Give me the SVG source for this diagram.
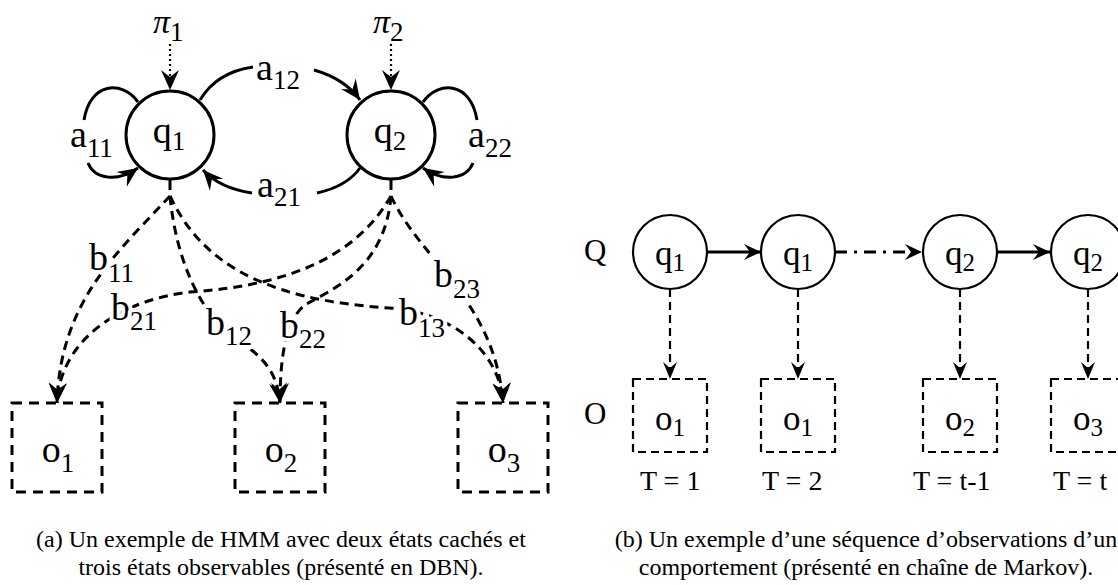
<svg xmlns="http://www.w3.org/2000/svg" width="1118" height="585" viewBox="0 0 1118 585" font-family="Liberation Serif, DejaVu Serif, serif">
<style>
text{font-family:'Liberation Serif','DejaVu Serif',serif;fill:#000}
.lt{font-size:38px}
.pi{font-size:34px}
.sub{font-size:27px}
.rt{font-size:35px}
.rsub{font-size:25px}
.cap{font-size:24px;text-anchor:middle}
.tl{font-size:28px}
.halo{stroke:#fff;stroke-width:8;paint-order:stroke;stroke-linejoin:round}
.node{fill:#fff;stroke:#000;stroke-width:3}
.rnode{fill:#fff;stroke:#000;stroke-width:2.2}
.obs{fill:none;stroke:#000;stroke-width:3;stroke-dasharray:10 7}
.robs{fill:none;stroke:#000;stroke-width:2.2;stroke-dasharray:8 5}
.arc{fill:none;stroke:#000;stroke-width:3}
.dash{fill:none;stroke:#000;stroke-width:3;stroke-dasharray:9 6}
.dot{fill:none;stroke:#000;stroke-width:2.2;stroke-dasharray:2 3}
.rsolid{fill:none;stroke:#000;stroke-width:3}
.rdd{fill:none;stroke:#000;stroke-width:3;stroke-dasharray:12 7 3 7}
.rdash{fill:none;stroke:#000;stroke-width:2.2;stroke-dasharray:8 5}
</style>
<defs>
<marker id="ahL" markerUnits="userSpaceOnUse" viewBox="-22 -11 24 22" markerWidth="24" markerHeight="22" refX="0" refY="0" orient="auto">
<path d="M0,0 L-20,-9 L-13,0 L-20,9 Z" fill="#000"/>
</marker>
<marker id="ahR" markerUnits="userSpaceOnUse" viewBox="-20 -10 22 20" markerWidth="22" markerHeight="20" refX="0" refY="0" orient="auto">
<path d="M0,0 L-17,-8 L-11,0 L-17,8 Z" fill="#000"/>
</marker>
<marker id="ahV" markerUnits="userSpaceOnUse" viewBox="-20 -10 22 20" markerWidth="22" markerHeight="20" refX="0" refY="0" orient="auto">
<path d="M0,0 L-17,-7 L-11,0 L-17,7 Z" fill="#000"/>
</marker>
</defs>
<rect width="1118" height="585" fill="#fff"/>

<g id="connectors">
<path class="dot" d="M170,44 L170,76"/>
<path class="dot" d="M391,44 L391,76"/>
<path d="M170,72 L170,90" stroke="none" fill="none" marker-end="url(#ahL)"/>
<path d="M391,72 L391,90" stroke="none" fill="none" marker-end="url(#ahL)"/>
<path class="arc" d="M200,100 C212,80 232,70 253,67"/>
<path class="arc" d="M314,70 C335,76 350,86 360,100" marker-end="url(#ahL)"/>
<path class="arc" d="M360,168 C350,182 335,189 317,193"/>
<path class="arc" d="M252,193 C232,190 214,182 203,170" marker-end="url(#ahL)"/>
<path class="arc" d="M138,102 C122,80 90,82 84,120"/>
<path class="arc" d="M88,163 C95,180 118,182 138,168" marker-end="url(#ahL)"/>
<path class="arc" d="M423,102 C439,80 471,82 477,120"/>
<path class="arc" d="M473,163 C466,180 443,182 423,168" marker-end="url(#ahL)"/>
<path class="arc" d="M170,179 L170,190"/>
<path class="arc" d="M391,179 L391,190"/>
<path class="dash" d="M170,196 C120,250 60,300 57,403" marker-end="url(#ahL)"/>
<path class="dash" d="M170,196 C176,260 200,310 230,335 C262,355 277,370 280,403" marker-end="url(#ahL)"/>
<path class="dash" d="M170,196 C200,260 260,300 390,308 C450,312 500,350 503,403" marker-end="url(#ahL)"/>
<path class="dash" d="M391,196 C360,250 300,285 190,292 C120,300 60,340 57,403" marker-end="url(#ahL)"/>
<path class="dash" d="M391,196 C385,270 330,290 305,305 C285,320 280,360 280,403" marker-end="url(#ahL)"/>
<path class="dash" d="M391,196 C420,260 495,300 503,403" marker-end="url(#ahL)"/>
<path class="rsolid" d="M707,252 L761,252" marker-end="url(#ahR)"/>
<path class="rdd" d="M835,252 L922,252" marker-end="url(#ahR)"/>
<path class="rsolid" d="M997,252 L1050,252" marker-end="url(#ahR)"/>
<path class="rdash" d="M670,289 L670,379" marker-end="url(#ahV)"/>
<path class="rdash" d="M798,289 L798,379" marker-end="url(#ahV)"/>
<path class="rdash" d="M960,289 L960,379" marker-end="url(#ahV)"/>
<path class="rdash" d="M1088,289 L1088,379" marker-end="url(#ahV)"/>
</g>

<g id="edge-labels">
<text class="pi" x="153" y="33"><tspan font-style="italic">π</tspan><tspan class="sub" dy="8">1</tspan></text>
<text class="pi" x="373" y="33"><tspan font-style="italic">π</tspan><tspan class="sub" dy="8">2</tspan></text>
<text class="lt" x="256" y="80">a<tspan class="sub" dy="9">12</tspan></text>
<text class="lt" x="257" y="197">a<tspan class="sub" dy="9">21</tspan></text>
<text class="lt" x="70" y="147">a<tspan class="sub" dy="10">11</tspan></text>
<text class="lt" x="468" y="147">a<tspan class="sub" dy="10">22</tspan></text>
<text class="lt halo" x="89" y="270">b<tspan class="sub" dy="12">11</tspan></text>
<text class="lt halo" x="111" y="320">b<tspan class="sub" dy="10">21</tspan></text>
<text class="lt halo" x="206" y="335">b<tspan class="sub" dy="10">12</tspan></text>
<text class="lt halo" x="280" y="338">b<tspan class="sub" dy="10">22</tspan></text>
<text class="lt halo" x="399" y="325">b<tspan class="sub" dy="12">13</tspan></text>
<text class="lt halo" x="434" y="287">b<tspan class="sub" dy="11">23</tspan></text>
</g>

<g id="q1"><circle class="node" cx="170" cy="135" r="44"/><text class="lt" x="169" y="143" text-anchor="middle">q<tspan class="sub" dy="7">1</tspan></text></g>
<g id="q2"><circle class="node" cx="391" cy="135" r="44"/><text class="lt" x="390" y="143" text-anchor="middle">q<tspan class="sub" dy="7">2</tspan></text></g>
<g id="o1"><rect class="obs" x="12" y="403" width="90" height="89"/><text class="lt" x="58" y="462" text-anchor="middle">o<tspan class="sub" dy="10">1</tspan></text></g>
<g id="o2"><rect class="obs" x="235" y="403" width="90" height="89"/><text class="lt" x="281" y="462" text-anchor="middle">o<tspan class="sub" dy="10">2</tspan></text></g>
<g id="o3"><rect class="obs" x="458" y="403" width="90" height="89"/><text class="lt" x="504" y="462" text-anchor="middle">o<tspan class="sub" dy="10">3</tspan></text></g>

<g id="caption-a">
<text class="cap" x="281" y="547">(a) Un exemple de HMM avec deux états cachés et</text>
<text class="cap" x="281" y="575">trois états observables (présenté en DBN).</text>
</g>

<g id="row-labels">
<text x="584" y="261" font-size="31">Q</text>
<text x="584" y="424" font-size="31">O</text>
</g>

<g id="s1"><circle class="rnode" cx="670" cy="252" r="37"/><text class="rt" x="670" y="265" text-anchor="middle">q<tspan class="rsub" dy="6">1</tspan></text></g>
<g id="s2"><circle class="rnode" cx="798" cy="252" r="37"/><text class="rt" x="798" y="265" text-anchor="middle">q<tspan class="rsub" dy="6">1</tspan></text></g>
<g id="s3"><circle class="rnode" cx="960" cy="252" r="37"/><text class="rt" x="960" y="265" text-anchor="middle">q<tspan class="rsub" dy="6">2</tspan></text></g>
<g id="s4"><circle class="rnode" cx="1088" cy="252" r="37"/><text class="rt" x="1088" y="265" text-anchor="middle">q<tspan class="rsub" dy="6">2</tspan></text></g>

<g id="b1"><rect class="robs" x="633" y="379" width="74" height="73"/><text class="rt" x="670" y="430" text-anchor="middle">o<tspan class="rsub" dy="6">1</tspan></text></g>
<g id="b2"><rect class="robs" x="761" y="379" width="74" height="73"/><text class="rt" x="798" y="430" text-anchor="middle">o<tspan class="rsub" dy="6">1</tspan></text></g>
<g id="b3"><rect class="robs" x="923" y="379" width="74" height="73"/><text class="rt" x="960" y="430" text-anchor="middle">o<tspan class="rsub" dy="6">2</tspan></text></g>
<g id="b4"><rect class="robs" x="1051" y="379" width="74" height="73"/><text class="rt" x="1088" y="430" text-anchor="middle">o<tspan class="rsub" dy="6">3</tspan></text></g>

<g id="time-labels">
<text class="tl" x="640" y="490">T = 1</text>
<text class="tl" x="762" y="490">T = 2</text>
<text class="tl" x="913" y="490">T = t-1</text>
<text class="tl" x="1053" y="490">T = t</text>
</g>

<g id="caption-b">
<text class="cap" x="866" y="547">(b) Un exemple d’une séquence d’observations d’un</text>
<text class="cap" x="866" y="575">comportement (présenté en chaîne de Markov).</text>
</g>
</svg>
